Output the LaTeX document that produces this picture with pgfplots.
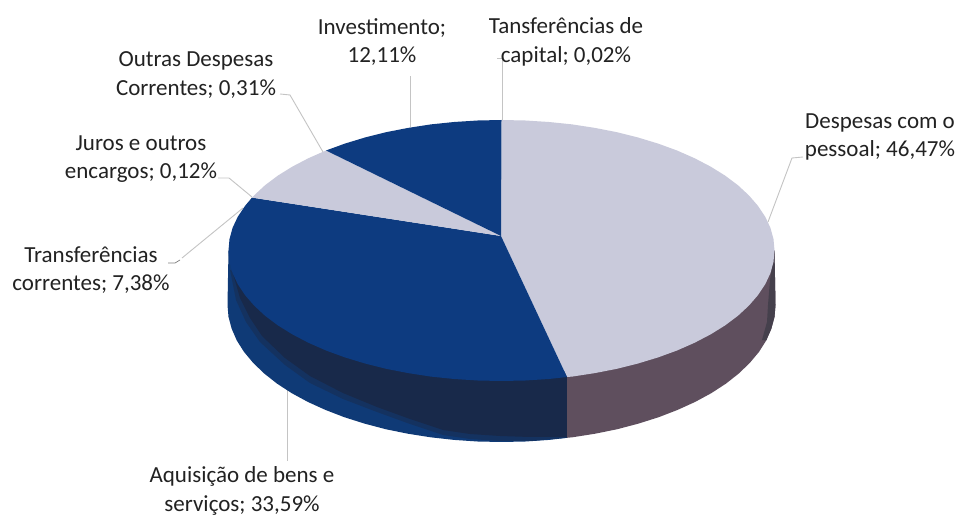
\documentclass[border=0pt]{standalone}
\usepackage{pgfplots}
\pgfplotsset{compat=1.18}
\usepackage{fontspec}
\setmainfont{Carlito}
\definecolor{pgrey}{HTML}{C9CADB}
\definecolor{pblue}{HTML}{0D3B80}
\definecolor{sideblue}{HTML}{0F3A76}
\definecolor{sidemid}{HTML}{143260}
\definecolor{sidedark}{HTML}{18294A}
\definecolor{sidemauve}{HTML}{5F4F5E}
\definecolor{sidemauvedark}{HTML}{45404C}
\definecolor{leader}{HTML}{C4C4C4}
\definecolor{lbl}{HTML}{222222}
\begin{document}
\begin{tikzpicture}
\begin{axis}[
  scale only axis, width=956pt, height=518pt,
  xmin=0, xmax=956, ymin=0, ymax=518, y dir=reverse,
  hide axis, clip=true,
  nodes={font=\fontsize{23}{28.5}\selectfont, text=lbl, align=center, inner sep=0pt}
]
% page
\addplot[fill=white,draw=none] coordinates {(0,0)(956,0)(956,518)(0,518)} -- cycle;
% leader lines
\addplot[leader,line width=0.9pt] coordinates {(768,222)(792,158)(803,157)};
\addplot[leader,line width=0.9pt] coordinates {(410,127)(410,76)};
\addplot[leader,line width=0.9pt] coordinates {(502,120)(502,58)(497,58)};
\addplot[leader,line width=0.9pt] coordinates {(323,152)(290,95)(280,94)};
\addplot[leader,line width=0.9pt] coordinates {(252,197)(229,178)(218,178)};
\addplot[leader,line width=0.9pt] coordinates {(243,208)(182,258)};
\addplot[gray,line width=0.7pt] coordinates {(180,260)(175,263)(168,263)};
\addplot[leader,line width=0.9pt] coordinates {(287,390)(287,461)};
% side, blue part
\addplot[fill=sideblue,draw=none] coordinates {
(567,377)(567,437.8)(549.1,439.9)(525.4,441.5)(501.5,442)(477.6,441.5)(453.9,439.9)(430.6,437.3)(407.8,433.7)(385.7,429.2)(364.5,423.6)(344.3,417.2)(325.4,409.9)(307.8,401.9)(291.6,393.1)(277,383.6)(264.2,373.5)(253.2,362.9)(244,351.9)(236.8,340.5)(231.7,328.8)(228.5,316.9)(227.5,305)(228.5,250.5)
(300,300)(400,370)} -- cycle;
% side, soft edge of the dark band
\addplot[fill=sidemid,draw=none] coordinates {
(567,370)(567,437.8)(530,441)(500,441)(470,439)(443,435)(410,424)(377,412)(343,399)(310,383)(285,365)(260,342)(246,322)(236,300)(230,270)(300,300)(400,360)} -- cycle;
% side, dark band on the blue part
\addplot[fill=sidedark,draw=none] coordinates {
(567,370)(567,437)(530,437)(500,436)(470,434)(443,430)(410,419)(377,407)(343,393)(310,376)(285,358)(262,336)(250,318)(240,298)(232,270)(300,300)(400,360)} -- cycle;
% side, mauve part
\addplot[fill=sidemauve,draw=none] coordinates {
(774.5,250.5)(775.5,305)(774.5,316.9)(771.3,328.8)(766.2,340.5)(759,351.9)(749.8,362.9)(738.8,373.5)(726,383.6)(711.4,393.1)(695.2,401.9)(677.6,409.9)(658.7,417.2)(638.5,423.6)(617.3,429.2)(595.2,433.7)(572.4,437.3)(567,437.8)(567,370)(700,300)} -- cycle;
% side, darker strip at the right end
\addplot[fill=sidemauvedark,draw=none] coordinates {
(774.5,250.5)(775.5,305)(774.5,316.9)(771.3,328.8)(766.2,340.5)(762,340)(767,322)(768,305)(770,280)} -- cycle;
% Despesas com o pessoal
\addplot[fill=pgrey,draw=none] coordinates {
(501,236)(501.5,120)(525.3,120.5)(548.9,122)(572.2,124.4)(594.9,127.9)(616.9,132.2)(638,137.5)(658.1,143.6)(677,150.5)(694.5,158.2)(710.6,166.6)(725.1,175.6)(737.9,185.2)(748.9,195.4)(758,205.9)(765.2,216.7)(770.4,227.8)(773.5,239.1)(774.5,250.5)(773.5,261.9)(770.4,273.2)(765.2,284.3)(758,295.1)(748.9,305.6)(737.9,315.8)(725.1,325.4)(710.6,334.4)(694.5,342.8)(677,350.5)(658.1,357.4)(638,363.5)(616.9,368.8)(594.9,373.1)(572.2,376.6)(567,377)} -- cycle;
% Aquisicao de bens e servicos
\addplot[fill=pblue,draw=none] coordinates {
(501,236)(567,377)(548.9,379)(525.3,380.5)(501.5,381)(477.7,380.5)(454.1,379)(430.8,376.6)(408.1,373.1)(386.1,368.8)(365,363.5)(344.9,357.4)(326,350.5)(308.5,342.8)(292.4,334.4)(277.9,325.4)(265.1,315.8)(254.1,305.6)(245,295.1)(237.8,284.3)(232.6,273.2)(229.5,261.9)(228.5,250.5)(229.5,239.1)(232.6,227.8)(237.8,216.7)(245,205.9)(252,197.6)} -- cycle;
% grey wedge
\addplot[fill=pgrey,draw=none] coordinates {
(501,236)(252,197.6)(254.1,195.4)(265.1,185.2)(277.9,175.6)(292.4,166.6)(308.5,158.2)(326,150.5)} -- cycle;
% Investimento
\addplot[fill=pblue,draw=none] coordinates {
(501,236)(326,150.5)(344.9,143.6)(365,137.5)(386.1,132.2)(408.1,127.9)(430.8,124.4)(454.1,122)(477.7,120.5)(501.5,120)} -- cycle;
\node at (axis cs:382,42) {Investimento;\\12,11\%};
\node at (axis cs:566,42) {Tansferências de\\capital; 0,02\%};
\node at (axis cs:196,75) {Outras Despesas\\Correntes; 0,31\%};
\node at (axis cs:141,159) {Juros e outros\\encargos; 0,12\%};
\node at (axis cs:91,270) {Transferências\\correntes; 7,38\%};
\node at (axis cs:880,137) {Despesas com o\\pessoal; 46,47\%};
\node at (axis cs:242,491) {Aquisição de bens e\\serviços; 33,59\%};
\end{axis}
\end{tikzpicture}
\end{document}
